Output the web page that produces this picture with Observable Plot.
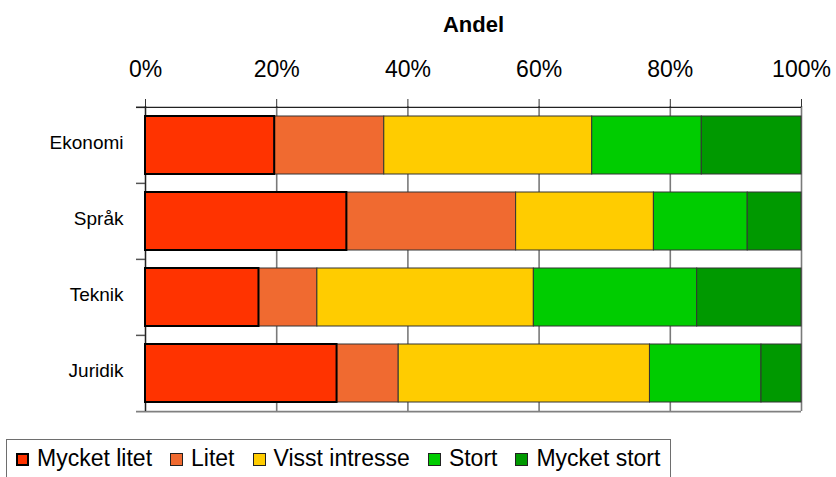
<!DOCTYPE html>
<html>
<head>
<meta charset="utf-8">
<script src="https://cdn.jsdelivr.net/npm/d3@7"></script>
<script src="https://cdn.jsdelivr.net/npm/@observablehq/plot@0.6"></script>
<style>
  html, body { margin: 0; padding: 0; background: #fff; }
  #wrap { position: relative; width: 836px; height: 477px; overflow: hidden; font-family: "Liberation Sans", Arial, sans-serif; }
  #chart svg { display: block; }
  #legend {
    position: absolute; left: 6px; top: 439px; width: 665px; height: 44px;
    border: 1px solid #6e6e6e; box-sizing: border-box; background: #fff;
    display: flex; align-items: flex-start; padding: 7px 0 0 9px;
    font-size: 23px; line-height: 23px; color: #000;
  }
  .item { display: flex; align-items: flex-start; margin-right: 18px; white-space: nowrap; }
  .sw { width: 13px; height: 13px; box-sizing: border-box; border: 1px solid #222; margin: 6px 8px 0 0; }
</style>
</head>
<body>
<div id="wrap">
  <div id="chart"></div>
  <div id="legend"></div>
</div>
<script>
const categories = ["Ekonomi", "Språk", "Teknik", "Juridik"];
const seriesNames = ["Mycket litet", "Litet", "Visst intresse", "Stort", "Mycket stort"];
const seriesColors = ["#ff3300", "#f06a30", "#ffcc00", "#00cc00", "#009900"];
const mycketLitet = [19.7, 30.7, 17.3, 29.2];
const litet = [16.7, 25.8, 8.9, 9.4];
const visstIntresse = [31.7, 21.0, 33.0, 38.3];
const stort = [16.7, 14.3, 24.9, 17.0];
const mycketStort = [15.2, 8.2, 15.9, 6.1];
const xTicks = [0, 20, 40, 60, 80, 100];
const titleText = "Andel";

const seriesValues = [mycketLitet, litet, visstIntresse, stort, mycketStort];
const data = [];
categories.forEach((c, i) => {
  seriesNames.forEach((s, j) => data.push({cat: c, series: s, value: seriesValues[j][i]}));
});
const firstSeries = data.filter(d => d.series === seriesNames[0]);

const W = 836, H = 437, mt = 106, mb = 26;
const halfStep = (H - mt - mb) / categories.length / 2;

const plot = Plot.plot({
  width: W,
  height: H,
  marginLeft: 145,
  marginRight: 35,
  marginTop: mt,
  marginBottom: mb,
  style: {fontFamily: "'Liberation Sans', Arial, sans-serif", background: "#fff", overflow: "visible"},
  x: {domain: [0, 100], axis: null},
  y: {domain: categories, paddingInner: 0.24, paddingOuter: 0.12, axis: null},
  color: {domain: seriesNames, range: seriesColors},
  marks: [
    Plot.gridX(xTicks, {stroke: "#7a7a7a", strokeOpacity: 1, strokeWidth: 1.6}),
    Plot.axisX({anchor: "top", ticks: xTicks, tickSize: 8, tickPadding: 22, tickFormat: d => d + "%",
      fontSize: 23, label: null, stroke: "#333", color: "#000"}),
    Plot.axisY({anchor: "left", tickSize: 0, tickPadding: 22, fontSize: 19, label: null, dy: -3, color: "#000"}),
    Plot.ruleY(categories, {y: d => d, dy: -halfStep, x1: 0, x2: 0, insetLeft: -9, stroke: "#555", strokeWidth: 1.5}),
    Plot.ruleY([categories[0]], {y: d => d, dy: -halfStep, x1: 0, x2: 100, insetLeft: -9, stroke: "#222", strokeWidth: 1.2}),
    Plot.ruleY([categories[categories.length - 1]], {y: d => d, dy: halfStep, x1: 0, x2: 100, insetLeft: -9, stroke: "#808080", strokeWidth: 1.6}),
    Plot.ruleX([0], {stroke: "#222", strokeWidth: 1.2}),
    Plot.barX(data, {x: "value", y: "cat", fill: "series", stroke: "#333", strokeWidth: 1, order: seriesNames}),
    Plot.barX(firstSeries, {x: "value", y: "cat", fill: "none", stroke: "#000", strokeWidth: 2}),
    Plot.text([titleText], {text: d => d, frameAnchor: "top", dy: -90, fontSize: 22, fontWeight: "bold", fill: "#000"})
  ]
});
document.getElementById("chart").appendChild(plot);

const legend = document.getElementById("legend");
seriesNames.forEach((s, j) => {
  const item = document.createElement("div");
  item.className = "item";
  const sw = document.createElement("span");
  sw.className = "sw";
  sw.style.background = seriesColors[j];
  if (j === 0) { sw.style.border = "2px solid #000"; }
  const t = document.createElement("span");
  t.textContent = s;
  item.appendChild(sw);
  item.appendChild(t);
  legend.appendChild(item);
});
</script>
</body>
</html>
